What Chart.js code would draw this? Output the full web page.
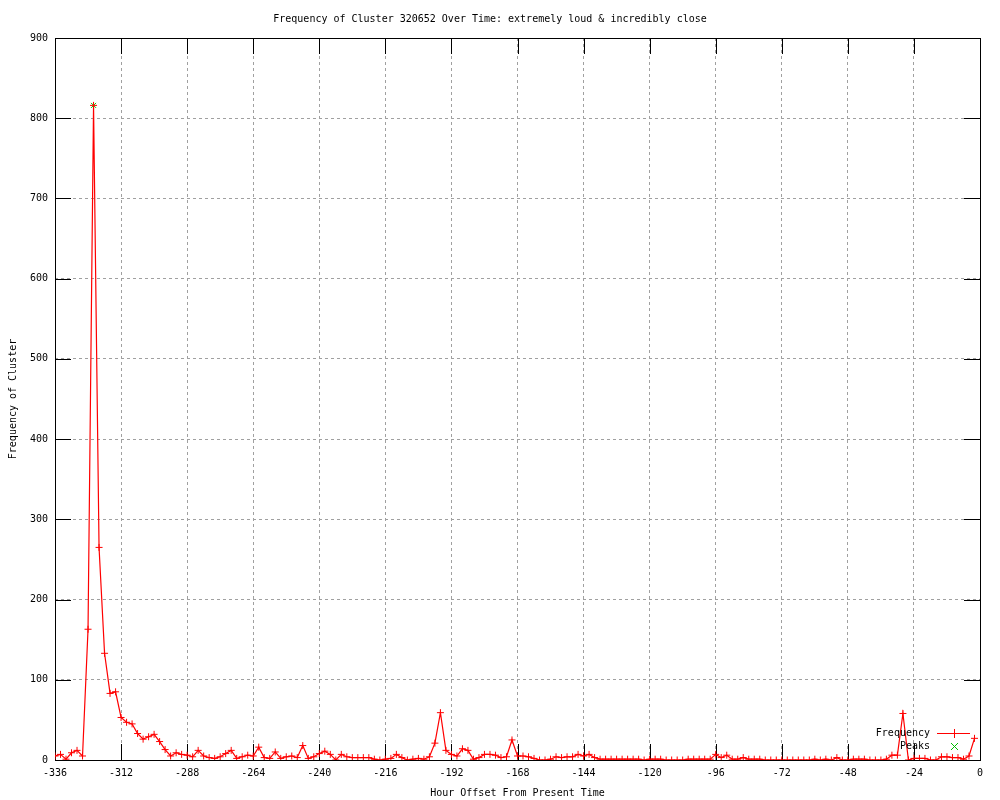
<!DOCTYPE html>
<html>
<head>
<meta charset="utf-8">
<script src="https://cdn.jsdelivr.net/npm/chart.js@4/dist/chart.umd.min.js"></script>
<style>
  body { margin: 0; background: #fff; }
  #wrap { width: 1000px; height: 800px; }
</style>
</head>
<body>
<div id="wrap"><canvas id="freq"></canvas></div>
<script>
// hour offsets, one point every 2 hours
const hours = [
  -336, -334, -332, -330, -328, -326, -324, -322, -320, -318, -316, -314,
  -312, -310, -308, -306, -304, -302, -300, -298, -296, -294, -292, -290,
  -288, -286, -284, -282, -280, -278, -276, -274, -272, -270, -268, -266,
  -264, -262, -260, -258, -256, -254, -252, -250, -248, -246, -244, -242,
  -240, -238, -236, -234, -232, -230, -228, -226, -224, -222, -220, -218,
  -216, -214, -212, -210, -208, -206, -204, -202, -200, -198, -196, -194,
  -192, -190, -188, -186, -184, -182, -180, -178, -176, -174, -172, -170,
  -168, -166, -164, -162, -160, -158, -156, -154, -152, -150, -148, -146,
  -144, -142, -140, -138, -136, -134, -132, -130, -128, -126, -124, -122,
  -120, -118, -116, -114, -112, -110, -108, -106, -104, -102, -100, -98,
  -96, -94, -92, -90, -88, -86, -84, -82, -80, -78, -76, -74,
  -72, -70, -68, -66, -64, -62, -60, -58, -56, -54, -52, -50,
  -48, -46, -44, -42, -40, -38, -36, -34, -32, -30, -28, -26,
  -24, -22, -20, -18, -16, -14, -12, -10, -8, -6, -4, -2
];
const frequency = [
  5, 7, 1, 9, 12, 5, 163, 816, 265, 133, 83, 85,
  53, 47, 45, 33, 26, 29, 32, 23, 13, 5, 9, 7,
  6, 4, 12, 5, 3, 2, 4, 8, 12, 2, 4, 6,
  5, 16, 3, 2, 10, 2, 4, 5, 3, 18, 2, 4,
  8, 11, 7, 0, 7, 4, 3, 3, 3, 3, 1, 0,
  1, 2, 7, 3, 0, 1, 2, 1, 4, 21, 59, 12,
  7, 5, 14, 12, 1, 3, 7, 7, 6, 3, 4, 25,
  5, 5, 4, 2, 0, 0, 1, 4, 3, 4, 4, 7,
  5, 7, 3, 1, 1, 1, 1, 1, 1, 1, 1, 0,
  1, 1, 1, 0, 0, 0, 0, 1, 1, 1, 1, 1,
  7, 3, 6, 1, 1, 3, 1, 1, 1, 0, 0, 0,
  0, 0, 0, 0, 0, 0, 1, 0, 1, 0, 3, 0,
  0, 1, 1, 1, 0, 0, 0, 1, 6, 6, 58, 0,
  2, 2, 2, 0, 0, 4, 4, 3, 3, 1, 5, 27
];
const peakHours = [-322];
const peakValues = [816];

const xTicks = [-336, -312, -288, -264, -240, -216, -192, -168, -144, -120, -96, -72, -48, -24, 0];
const yTicks = [0, 100, 200, 300, 400, 500, 600, 700, 800, 900];

const mono = { family: '"DejaVu Sans Mono", monospace', size: 10 };
const RED = '#ff0000';
const GREEN = '#00c000';

const freqPoints = hours.map((h, i) => ({ x: h, y: frequency[i] }));
const peakPoints = peakHours.map((h, i) => ({ x: h, y: peakValues[i] }));

// gnuplot style border with inward ticks on all four sides
const framePlugin = {
  id: 'frame',
  beforeDatasetsDraw(chart) {
    const { ctx, chartArea: a, scales } = chart;
    const len = 16;
    ctx.save();
    ctx.setLineDash([]);
    ctx.strokeStyle = '#000';
    ctx.lineWidth = 1;
    ctx.beginPath();
    xTicks.forEach(v => {
      const px = Math.round(scales.x.getPixelForValue(v)) + 0.5;
      ctx.moveTo(px, a.bottom); ctx.lineTo(px, a.bottom - len);
      ctx.moveTo(px, a.top); ctx.lineTo(px, a.top + len);
    });
    yTicks.forEach(v => {
      const py = Math.round(scales.y.getPixelForValue(v)) + 0.5;
      ctx.moveTo(a.left, py); ctx.lineTo(a.left + len, py);
      ctx.moveTo(a.right, py); ctx.lineTo(a.right - len, py);
    });
    ctx.stroke();
    ctx.strokeRect(Math.round(a.left) + 0.5, Math.round(a.top) + 0.5,
      Math.round(a.right - a.left), Math.round(a.bottom - a.top));
    ctx.restore();
  },
  afterDraw(chart) {
    // key in the lower right corner, no box
    const { ctx, chartArea: a } = chart;
    const textX = Math.round(a.right - 50);
    const lineX1 = Math.round(a.right - 43), lineX2 = Math.round(a.right - 10);
    const midX = Math.round((lineX1 + lineX2) / 2);
    const row1 = Math.round(a.bottom - 27), row2 = Math.round(a.bottom - 14);
    ctx.save();
    ctx.setLineDash([]);
    ctx.font = '10px "DejaVu Sans Mono", monospace';
    ctx.fillStyle = '#000';
    ctx.textAlign = 'right';
    ctx.textBaseline = 'middle';
    ctx.fillText('Frequency', textX, row1);
    ctx.fillText('Peaks', textX, row2);
    ctx.fillStyle = RED;
    ctx.fillRect(lineX1, row1, lineX2 - lineX1, 1);
    ctx.fillRect(midX, row1 - 4, 1, 9);
    ctx.strokeStyle = GREEN;
    ctx.lineWidth = 1;
    ctx.beginPath();
    ctx.moveTo(midX - 3, row2 - 3); ctx.lineTo(midX + 4, row2 + 4);
    ctx.moveTo(midX + 4, row2 - 3); ctx.lineTo(midX - 3, row2 + 4);
    ctx.stroke();
    ctx.restore();
  }
};

new Chart(document.getElementById('freq'), {
  type: 'line',
  data: {
    datasets: [
      {
        label: 'Frequency',
        data: freqPoints,
        borderColor: RED,
        backgroundColor: RED,
        borderWidth: 1.2,
        pointStyle: 'cross',
        pointRadius: 3.5,
        pointBorderWidth: 1,
        pointBorderColor: RED,
        tension: 0,
        fill: false
      },
      {
        label: 'Peaks',
        data: peakPoints,
        showLine: false,
        pointStyle: 'crossRot',
        pointRadius: 3.5,
        pointBorderWidth: 1,
        pointBorderColor: GREEN,
        borderColor: GREEN
      }
    ]
  },
  options: {
    responsive: true,
    maintainAspectRatio: false,
    animation: false,
    layout: { padding: { left: 0, right: 20, top: 0, bottom: 0 } },
    plugins: {
      legend: { display: false },
      tooltip: { enabled: false },
      title: {
        display: true,
        text: 'Frequency of Cluster 320652 Over Time: extremely loud & incredibly close',
        color: '#000',
        font: { ...mono, weight: 'normal' },
        padding: { top: 13, bottom: 13 }
      }
    },
    scales: {
      x: {
        type: 'linear',
        min: -336,
        max: 0,
        afterFit(scale) { scale.height = 40; },
        afterBuildTicks(scale) { scale.ticks = xTicks.map(v => ({ value: v })); },
        ticks: { color: '#000', font: mono, padding: 7, maxRotation: 0, autoSkip: false },
        grid: { color: '#a0a0a0', drawTicks: false, lineWidth: 1 },
        border: { display: false, dash: [3, 3] },
        title: {
          display: true,
          text: 'Hour Offset From Present Time',
          color: '#000',
          font: mono,
          padding: { top: 0, bottom: 1 }
        }
      },
      y: {
        min: 0,
        max: 900,
        afterFit(scale) { scale.width = 55; },
        afterBuildTicks(scale) { scale.ticks = yTicks.map(v => ({ value: v })); },
        ticks: { color: '#000', font: mono, padding: 7 },
        grid: { color: '#a0a0a0', drawTicks: false, lineWidth: 1 },
        border: { display: false, dash: [3, 3] },
        title: {
          display: true,
          text: 'Frequency of Cluster',
          color: '#000',
          font: mono,
          padding: { top: 7, bottom: 0 }
        }
      }
    }
  },
  plugins: [framePlugin]
});
</script>
</body>
</html>
